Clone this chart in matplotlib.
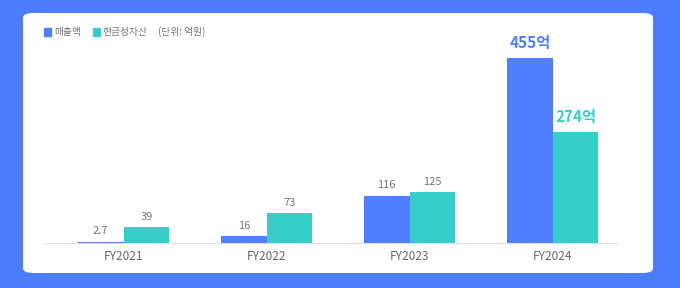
import matplotlib.pyplot as plt
from matplotlib.patches import FancyBboxPatch, Rectangle

plt.rcParams['font.family'] = ['Noto Sans CJK KR', 'DejaVu Sans']

# data (단위: 억원)
years = ['FY2021', 'FY2022', 'FY2023', 'FY2024']
sales = [2.7, 16, 116, 455]
cash = [39, 73, 125, 274]
sales_labels = ['2.7', '16', '116', '455억']
cash_labels = ['39', '73', '125', '274억']

BG = '#4c7dff'
BLUE = '#4d7fff'
CYAN = '#35cdca'
GREY = '#757575'

fig = plt.figure(figsize=(6.8, 2.88), dpi=100, facecolor=BG)

# white card behind the chart
card = FancyBboxPatch((23 / 680, 15 / 288), 630 / 680, 260 / 288,
                      boxstyle='round,pad=0,rounding_size=0.016',
                      transform=fig.transFigure, facecolor='white',
                      edgecolor='none', zorder=-5)
fig.patches.append(card)

ax = fig.add_axes([45 / 680, 45 / 288, 572 / 680, 185 / 288])
ax.set_facecolor('none')
ax.set_zorder(2)

x = list(range(len(years)))
w = 0.32
bars1 = ax.bar([i - w / 2 for i in x], sales, width=w, color=BLUE, zorder=2)
bars2 = ax.bar([i + w / 2 for i in x], cash, width=w, color=CYAN, zorder=2)

ax.set_xlim(-0.55, 3.45)
ax.set_ylim(0, 455)

for bars, labels, col in [(bars1, sales_labels, BLUE), (bars2, cash_labels, CYAN)]:
    for b, lab in zip(bars, labels):
        last = lab.endswith('억')
        ax.annotate(lab, (b.get_x() + b.get_width() / 2, b.get_height()),
                    xytext=(0, 5 if last else 4), textcoords='offset points',
                    ha='center', va='bottom', annotation_clip=False,
                    fontsize=11 if last else 8,
                    fontweight='bold' if last else 'normal',
                    color=col if last else GREY)

ax.set_xticks(x)
ax.set_xticklabels(years, fontsize=8.5, color='#666666')
ax.tick_params(axis='x', length=0, pad=5)
ax.set_yticks([])
for s in ['top', 'right', 'left']:
    ax.spines[s].set_visible(False)
ax.spines['bottom'].set_color('#dddddd')
ax.spines['bottom'].set_linewidth(0.8)

# legend row
ly = 1 - 32 / 288
fig.patches.append(Rectangle((44 / 680, ly - 4 / 288), 7 / 680, 8 / 288,
                             transform=fig.transFigure, color=BLUE))
fig.text(54 / 680, ly, '매출액', fontsize=7, color=GREY, va='center')
fig.patches.append(Rectangle((93 / 680, ly - 4 / 288), 7 / 680, 8 / 288,
                             transform=fig.transFigure, color=CYAN))
fig.text(103 / 680, ly, '현금성자산', fontsize=7, color=GREY, va='center')
fig.text(158 / 680, ly, '(단위: 억원)', fontsize=7, color=GREY, va='center')

fig.savefig('out.png', dpi=100, facecolor=BG)
